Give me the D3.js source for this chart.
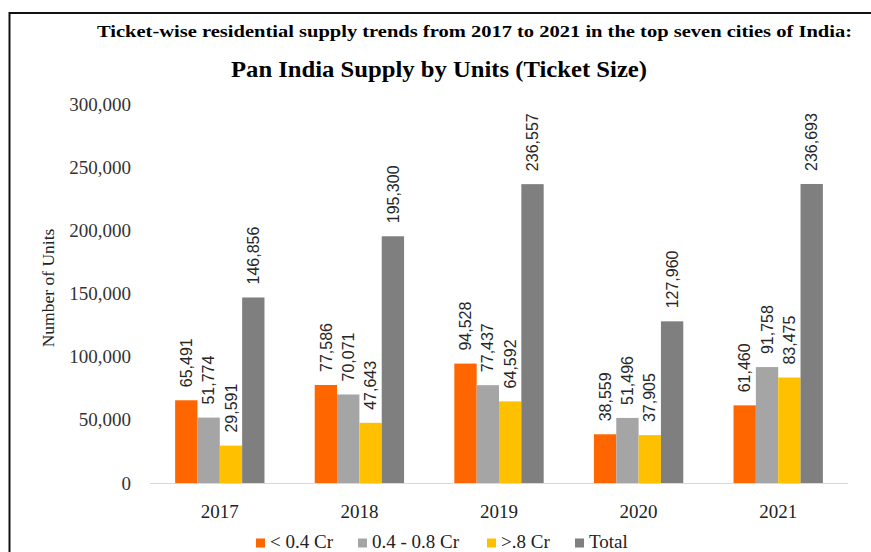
<!DOCTYPE html>
<html>
<head>
<meta charset="utf-8">
<script src="https://cdn.jsdelivr.net/npm/d3@7"></script>
<style>
  html, body { margin: 0; padding: 0; background: #fff; }
  svg { display: block; }
</style>
</head>
<body>
<svg id="chart" width="871" height="552"></svg>
<script>
const years = ["2017", "2018", "2019", "2020", "2021"];
const seriesNames = ["< 0.4 Cr", "0.4 - 0.8 Cr", ">.8 Cr", "Total"];
const seriesColors = ["#FF6600", "#A5A5A5", "#FFC000", "#7F7F7F"];
const lt04 = [65491, 77586, 94528, 38559, 61460];
const mid0408 = [51774, 70071, 77437, 51496, 91758];
const gt08 = [29591, 47643, 64592, 37905, 83475];
const total = [146856, 195300, 236557, 127960, 236693];
const yTicks = [0, 50000, 100000, 150000, 200000, 250000, 300000];

const seriesValues = [lt04, mid0408, gt08, total];

const svg = d3.select("#chart");
const serif = "'Liberation Serif', 'Times New Roman', serif";

// frame
svg.append("rect").attr("x", 9.5).attr("y", 13).attr("width", 1000).attr("height", 700)
  .attr("fill", "none").attr("stroke", "#111").attr("stroke-width", 2);

// titles
svg.append("text").attr("x", 97).attr("y", 37)
  .attr("font-family", serif).attr("font-weight", "bold").attr("font-size", 17)
  .attr("textLength", 755).attr("lengthAdjust", "spacingAndGlyphs")
  .attr("fill", "#000")
  .text("Ticket-wise residential supply trends from 2017 to 2021 in the top seven cities of India:");

svg.append("text").attr("x", 231).attr("y", 77)
  .attr("font-family", serif).attr("font-weight", "bold").attr("font-size", 23)
  .attr("textLength", 416).attr("lengthAdjust", "spacingAndGlyphs")
  .attr("fill", "#000")
  .text("Pan India Supply by Units (Ticket Size)");

// scales
const x0 = d3.scaleBand().domain(years).range([150, 848]).paddingInner(0.36).paddingOuter(0.18);
const x1 = d3.scaleBand().domain(seriesNames).range([0, x0.bandwidth()]).padding(0);
const y = d3.scaleLinear().domain([0, 300000]).range([483, 104]);
const color = d3.scaleOrdinal().domain(seriesNames).range(seriesColors);
const fmt = d3.format(",");

// y axis
const yAxis = svg.append("g").attr("transform", "translate(131,0)")
  .call(d3.axisLeft(y).tickValues(yTicks).tickSize(0).tickPadding(0).tickFormat(fmt));
yAxis.select(".domain").remove();
yAxis.selectAll("text").attr("font-family", serif).attr("font-size", 19).attr("fill", "#333");

// y title
svg.append("text")
  .attr("transform", "translate(48,288) rotate(-90)")
  .attr("text-anchor", "middle").attr("dy", "0.35em")
  .attr("font-family", serif).attr("font-size", 17.5).attr("fill", "#222")
  .text("Number of Units");

// bars
const rows = [];
years.forEach((yr, i) => {
  seriesNames.forEach((s, j) => rows.push({ year: yr, series: s, value: seriesValues[j][i] }));
});

const g = svg.append("g");
g.selectAll("rect.bar").data(rows).join("rect")
  .attr("class", "bar")
  .attr("x", d => x0(d.year) + x1(d.series))
  .attr("y", d => y(d.value))
  .attr("width", x1.bandwidth())
  .attr("height", d => y(0) - y(d.value))
  .attr("fill", d => color(d.series));

// labels
g.selectAll("text.lbl").data(rows).join("text")
  .attr("class", "lbl")
  .attr("transform", d => `translate(${x0(d.year) + x1(d.series) + x1.bandwidth() / 2},${y(d.value) - 13}) rotate(-90)`)
  .attr("dy", "0.35em")
  .attr("text-anchor", "start")
  .attr("font-family", "'Liberation Sans', Arial, sans-serif")
  .attr("font-size", 16).attr("fill", "#262626")
  .text(d => fmt(d.value));

// x axis
const xAxis = svg.append("g").attr("transform", "translate(0,483)")
  .call(d3.axisBottom(x0).tickSize(0).tickPadding(22));
xAxis.select(".domain").attr("stroke", "#d9d9d9").attr("d", "M150,0.5H848");
xAxis.selectAll("text").attr("font-family", serif).attr("font-size", 19).attr("fill", "#222");

// legend
const legendX = [256, 358, 487, 575];
const lg = svg.append("g");
seriesNames.forEach((s, i) => {
  lg.append("rect").attr("x", legendX[i]).attr("y", 538.5).attr("width", 9).attr("height", 9)
    .attr("fill", seriesColors[i]);
  lg.append("text").attr("x", legendX[i] + 14).attr("y", 547.5)
    .attr("font-family", serif).attr("font-size", 19).attr("fill", "#222")
    .text(s);
});
</script>
</body>
</html>
